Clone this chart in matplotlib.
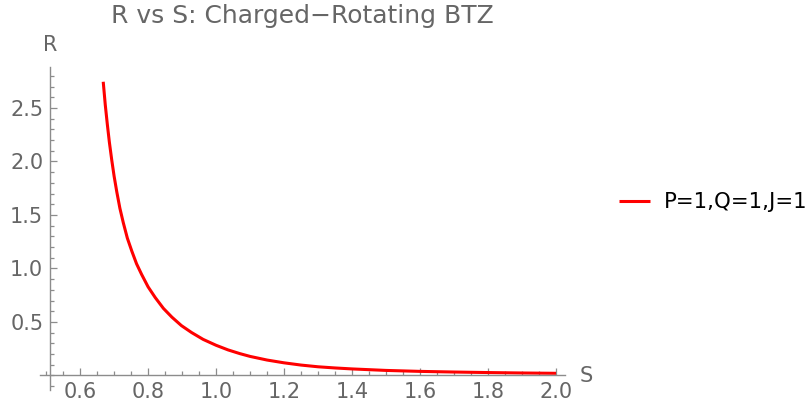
import matplotlib.pyplot as plt
from matplotlib.ticker import MultipleLocator

# values
S = [0.668, 0.674, 0.680, 0.686, 0.693, 0.700, 0.708, 0.717, 0.727, 0.739,
     0.752, 0.766, 0.781, 0.800, 0.821, 0.845, 0.870, 0.898, 0.928, 0.962,
     1.0, 1.035, 1.07, 1.1, 1.15, 1.2, 1.25, 1.3, 1.35, 1.4,
     1.5, 1.6, 1.7, 1.8, 1.9, 2.0]
R = [2.745, 2.53, 2.349, 2.182, 2.015, 1.863, 1.714, 1.563, 1.428, 1.283,
     1.163, 1.044, 0.944, 0.828, 0.728, 0.627, 0.545, 0.466, 0.401, 0.337,
     0.282, 0.239, 0.204, 0.178, 0.144, 0.118, 0.097, 0.081, 0.070, 0.061,
     0.047, 0.038, 0.032, 0.027, 0.023, 0.020]
x_ticks = [0.6, 0.8, 1.0, 1.2, 1.4, 1.6, 1.8, 2.0]
y_ticks = [0.5, 1.0, 1.5, 2.0, 2.5]
label = "P=1,Q=1,J=1"

plt.rcParams['font.family'] = ['DejaVu Sans']
gray = '#666666'
axis_gray = '#8c8c8c'

fig = plt.figure(figsize=(8.1, 4.13), dpi=100)
ax = fig.add_axes([40 / 810, 1 - 390 / 413, 525 / 810, 323 / 413])

line, = ax.plot(S, R, color='#ff0000', linewidth=2.2,
                solid_capstyle='butt', solid_joinstyle='round')

ax.set_xlim(0.482, 2.0265)
ax.set_ylim(-0.136, 2.883)

for side in ['top', 'right']:
    ax.spines[side].set_visible(False)
ax.spines['left'].set_position(('data', 0.512))
ax.spines['bottom'].set_position(('data', 0))
for side in ['left', 'bottom']:
    ax.spines[side].set_color(axis_gray)
    ax.spines[side].set_linewidth(1.0)

ax.set_xticks(x_ticks)
ax.set_xticklabels([f"{v:.1f}" for v in x_ticks])
ax.set_yticks(y_ticks)
ax.set_yticklabels([f"{v:.1f}" for v in y_ticks])
ax.xaxis.set_minor_locator(MultipleLocator(0.05))
ax.yaxis.set_minor_locator(MultipleLocator(0.1))
ax.tick_params(which='both', direction='in', color=axis_gray, width=0.9)
ax.tick_params(which='major', length=5, labelsize=15, labelcolor=gray)
ax.tick_params(which='minor', length=3)
ax.tick_params(axis='x', which='major', pad=5)
ax.tick_params(axis='y', which='major', pad=5)

fig.text(302 / 810, 1 - 16 / 413, "R vs S: Charged\u2212Rotating BTZ",
         ha='center', va='center', fontsize=18, color=gray)
fig.text(50 / 810, 1 - 45 / 413, "R", ha='center', va='center', fontsize=15, color=gray)
fig.text(586 / 810, 1 - 376 / 413, "S", ha='center', va='center', fontsize=15, color=gray)

fig.legend([line], [label], loc='center left', bbox_to_anchor=(619 / 810, 1 - 202 / 413),
           frameon=False, fontsize=15.3, handlelength=1.45, handletextpad=0.67,
           borderaxespad=0, borderpad=0)

fig.savefig('out.png', dpi=100, facecolor='white')
